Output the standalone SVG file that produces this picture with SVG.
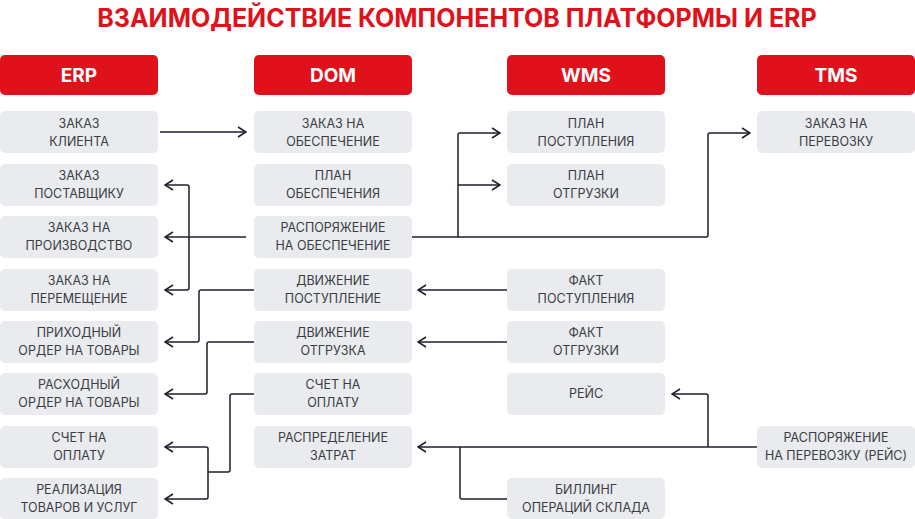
<svg xmlns="http://www.w3.org/2000/svg" width="915" height="519" viewBox="0 0 915 519">
<defs>
<style>
.h{fill:#E1111B}
.ht{fill:#fff;font:bold 19px "Inter","Liberation Sans",sans-serif;text-anchor:middle}
.b{fill:#E9EBEE}
.t{fill:#3a3d44;font:12.5px "Inter","Liberation Sans",sans-serif;text-anchor:middle}
.c{fill:none;stroke:#1b1f2b;stroke-width:1.5;stroke-linejoin:round}
</style>
<marker id="a" markerWidth="10" markerHeight="12" refX="9" refY="6" orient="auto" markerUnits="userSpaceOnUse"><path d="M1,1 L9,6 L1,11" fill="none" stroke="#1b1f2b" stroke-width="1.5"/></marker>
</defs>
<rect width="915" height="519" fill="#fff"/>
<text x="457" y="27" text-anchor="middle" style="fill:#E1111B;font:bold 25px 'Inter','Liberation Sans',sans-serif">ВЗАИМОДЕЙСТВИЕ КОМПОНЕНТОВ ПЛАТФОРМЫ И ERP</text>
<g id="h-erp"><rect class="h" x="0" y="55" width="158" height="40" rx="5"/><text class="ht" x="79" y="82">ERP</text></g>
<g id="h-dom"><rect class="h" x="254" y="55" width="158" height="40" rx="5"/><text class="ht" x="333" y="82">DOM</text></g>
<g id="h-wms"><rect class="h" x="507" y="55" width="158" height="40" rx="5"/><text class="ht" x="586" y="82">WMS</text></g>
<g id="h-tms"><rect class="h" x="757" y="55" width="158" height="40" rx="5"/><text class="ht" x="836" y="82">TMS</text></g>

<g id="erp1"><rect class="b" x="0" y="111" width="158" height="42" rx="5"/><text class="t" x="79" y="128">ЗАКАЗ</text><text class="t" x="79" y="146">КЛИЕНТА</text></g>
<g id="erp2"><rect class="b" x="0" y="164" width="158" height="42" rx="5"/><text class="t" x="79" y="180">ЗАКАЗ</text><text class="t" x="79" y="198">ПОСТАВЩИКУ</text></g>
<g id="erp3"><rect class="b" x="0" y="216" width="158" height="42" rx="5"/><text class="t" x="79" y="232">ЗАКАЗ НА</text><text class="t" x="79" y="250">ПРОИЗВОДСТВО</text></g>
<g id="erp4"><rect class="b" x="0" y="269" width="158" height="42" rx="5"/><text class="t" x="79" y="285">ЗАКАЗ НА</text><text class="t" x="79" y="303">ПЕРЕМЕЩЕНИЕ</text></g>
<g id="erp5"><rect class="b" x="0" y="321" width="158" height="42" rx="5"/><text class="t" x="79" y="337">ПРИХОДНЫЙ</text><text class="t" x="79" y="355">ОРДЕР НА ТОВАРЫ</text></g>
<g id="erp6"><rect class="b" x="0" y="373" width="158" height="42" rx="5"/><text class="t" x="79" y="389">РАСХОДНЫЙ</text><text class="t" x="79" y="407">ОРДЕР НА ТОВАРЫ</text></g>
<g id="erp7"><rect class="b" x="0" y="426" width="158" height="42" rx="5"/><text class="t" x="79" y="442">СЧЕТ НА</text><text class="t" x="79" y="460">ОПЛАТУ</text></g>
<g id="erp8"><rect class="b" x="0" y="478" width="158" height="41" rx="5"/><text class="t" x="79" y="494">РЕАЛИЗАЦИЯ</text><text class="t" x="79" y="512">ТОВАРОВ И УСЛУГ</text></g>

<g id="dom1"><rect class="b" x="254" y="111" width="158" height="42" rx="5"/><text class="t" x="333" y="128">ЗАКАЗ НА</text><text class="t" x="333" y="146">ОБЕСПЕЧЕНИЕ</text></g>
<g id="dom2"><rect class="b" x="254" y="164" width="158" height="42" rx="5"/><text class="t" x="333" y="180">ПЛАН</text><text class="t" x="333" y="198">ОБЕСПЕЧЕНИЯ</text></g>
<g id="dom3"><rect class="b" x="254" y="216" width="158" height="42" rx="5"/><text class="t" x="333" y="232">РАСПОРЯЖЕНИЕ</text><text class="t" x="333" y="250">НА ОБЕСПЕЧЕНИЕ</text></g>
<g id="dom4"><rect class="b" x="254" y="269" width="158" height="42" rx="5"/><text class="t" x="333" y="285">ДВИЖЕНИЕ</text><text class="t" x="333" y="303">ПОСТУПЛЕНИЕ</text></g>
<g id="dom5"><rect class="b" x="254" y="321" width="158" height="42" rx="5"/><text class="t" x="333" y="337">ДВИЖЕНИЕ</text><text class="t" x="333" y="355">ОТГРУЗКА</text></g>
<g id="dom6"><rect class="b" x="254" y="373" width="158" height="42" rx="5"/><text class="t" x="333" y="389">СЧЕТ НА</text><text class="t" x="333" y="407">ОПЛАТУ</text></g>
<g id="dom7"><rect class="b" x="254" y="426" width="158" height="42" rx="5"/><text class="t" x="333" y="442">РАСПРЕДЕЛЕНИЕ</text><text class="t" x="333" y="460">ЗАТРАТ</text></g>

<g id="wms1"><rect class="b" x="507" y="111" width="158" height="42" rx="5"/><text class="t" x="586" y="128">ПЛАН</text><text class="t" x="586" y="146">ПОСТУПЛЕНИЯ</text></g>
<g id="wms2"><rect class="b" x="507" y="164" width="158" height="42" rx="5"/><text class="t" x="586" y="180">ПЛАН</text><text class="t" x="586" y="198">ОТГРУЗКИ</text></g>
<g id="wms3"><rect class="b" x="507" y="269" width="158" height="42" rx="5"/><text class="t" x="586" y="285">ФАКТ</text><text class="t" x="586" y="303">ПОСТУПЛЕНИЯ</text></g>
<g id="wms4"><rect class="b" x="507" y="321" width="158" height="42" rx="5"/><text class="t" x="586" y="337">ФАКТ</text><text class="t" x="586" y="355">ОТГРУЗКИ</text></g>
<g id="wms5"><rect class="b" x="507" y="373" width="158" height="42" rx="5"/><text class="t" x="586" y="398">РЕЙС</text></g>
<g id="wms6"><rect class="b" x="507" y="478" width="158" height="41" rx="5"/><text class="t" x="586" y="494">БИЛЛИНГ</text><text class="t" x="586" y="512">ОПЕРАЦИЙ СКЛАДА</text></g>

<g id="tms1"><rect class="b" x="757" y="111" width="158" height="42" rx="5"/><text class="t" x="836" y="128">ЗАКАЗ НА</text><text class="t" x="836" y="146">ПЕРЕВОЗКУ</text></g>
<g id="tms2"><rect class="b" x="757" y="426" width="158" height="42" rx="5"/><text class="t" x="836" y="442">РАСПОРЯЖЕНИЕ</text><text class="t" x="836" y="460">НА ПЕРЕВОЗКУ (РЕЙС)</text></g>

<g id="connectors">
<path class="c" d="M160,132 H246" marker-end="url(#a)"/>
<path class="c" d="M246,237 H165" marker-end="url(#a)"/>
<path class="c" d="M187,185 Q189,185 189,187 V288 Q189,290 187,290 H165" marker-end="url(#a)"/>
<path class="c" d="M187,185 H165" marker-end="url(#a)"/>
<path class="c" d="M254,290 H201 Q199,290 199,292 V340 Q199,342 197,342 H165" marker-end="url(#a)"/>
<path class="c" d="M254,342 H209 Q207,342 207,344 V392 Q207,394 205,394 H165" marker-end="url(#a)"/>
<path class="c" d="M254,394 H232 Q230,394 230,396 V470 Q230,472 228,472 H208"/>
<path class="c" d="M206,447 Q208,447 208,449 V497 Q208,499 206,499 H165" marker-end="url(#a)"/>
<path class="c" d="M206,447 H165" marker-end="url(#a)"/>
<path class="c" d="M412,237 H706 Q708,237 708,235 V135 Q708,133 710,133 H750" marker-end="url(#a)"/>
<path class="c" d="M458,237 V135 Q458,133 460,133 H500" marker-end="url(#a)"/>
<path class="c" d="M458,185 H500" marker-end="url(#a)"/>
<path class="c" d="M507,290 H418" marker-end="url(#a)"/>
<path class="c" d="M507,342 H418" marker-end="url(#a)"/>
<path class="c" d="M757,447 H418" marker-end="url(#a)"/>
<path class="c" d="M708,447 V396 Q708,394 706,394 H672" marker-end="url(#a)"/>
<path class="c" d="M507,499 H462 Q460,499 460,497 V447"/>
</g>
</svg>
